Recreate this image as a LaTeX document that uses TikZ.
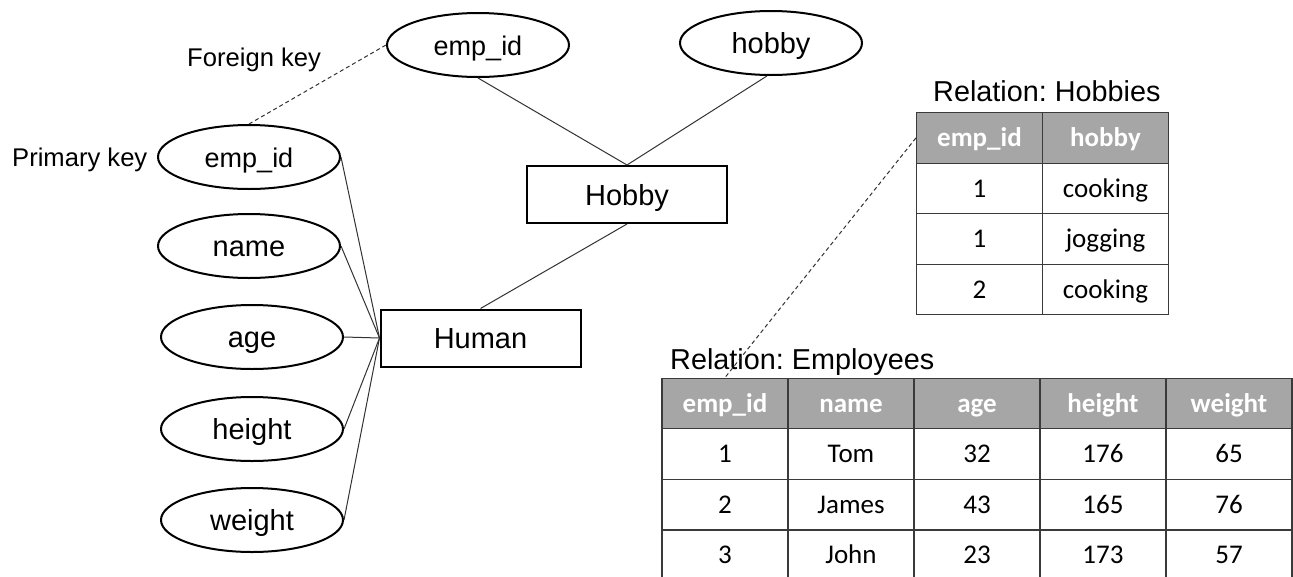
\documentclass[tikz,border=0pt]{standalone}
\usepackage{fontspec}
\setmainfont{Liberation Sans}
\newfontfamily\tabfont{Carlito}
\usetikzlibrary{shapes.geometric}
\frenchspacing
\definecolor{hdrgray}{HTML}{A6A6A6}
\definecolor{tabline}{HTML}{3A3A3A}
\definecolor{conn}{HTML}{333333}
\tikzset{
  attr/.style={draw=black, line width=2pt, ellipse, minimum width=182pt, minimum height=64pt, inner sep=0pt, text height=22pt, text depth=1pt, font=\fontsize{29}{34}\selectfont},
  attrsm/.style={attr, text height=21pt, text depth=1pt, font=\fontsize{27}{32}\selectfont},
  entity/.style={draw=black, line width=2pt, rectangle, minimum width=200pt, minimum height=57pt, inner sep=0pt, text height=22pt, text depth=1pt, font=\fontsize{29}{34}\selectfont},
  lbl/.style={inner sep=0pt, anchor=base west, font=\fontsize{25.6}{30}\selectfont},
  title/.style={inner sep=0pt, anchor=base west, font=\fontsize{28.8}{34}\selectfont},
  conline/.style={draw=conn, line width=1pt},
  fkline/.style={draw=conn, line width=1pt, dash pattern=on 4pt off 3pt},
  cell/.style={draw=tabline, line width=1.3pt, rectangle, minimum width=126pt, minimum height=50.6pt, inner sep=0pt, text height=20pt, text depth=3pt, font=\tabfont\fontsize{27}{32}\selectfont},
  hcell/.style={cell, fill=hdrgray, text=white, font=\tabfont\bfseries\fontsize{27}{32}\selectfont}
}
\begin{document}
\begin{tikzpicture}[x=1pt, y=-1pt]
\useasboundingbox[fill=white] (0,0) rectangle (1293,576);

% ER attributes
\node[attrsm] (topemp) at (478,45) {emp\_id};
\node[attr] (tophobby) at (771,43) {hobby};
\node[attrsm] (pk) at (249,157) {emp\_id};
\node[attr] (name) at (249,246) {name};
\node[attr] (age) at (252,337) {age};
\node[attr] (height) at (252,429) {height};
\node[attr] (weight) at (252,520) {weight};

% entities
\node[entity] (hobbyE) at (627,194.5) {Hobby};
\node[entity] (human) at (480.5,338) {Human};

% labels
\node[lbl] (fk) at (187,66) {Foreign key};
\node[lbl] (pklbl) at (12,166) {Primary key};

% connectors
\draw[conline] (topemp.south) -- (hobbyE.north);
\draw[conline] (tophobby.263) -- (hobbyE.north);
\draw[conline] (hobbyE.south) -- (human.north);
\foreach \a in {pk,name,age,height,weight}
  \draw[conline] (\a.east) -- (human.west);
\draw[fkline] (pk.north) -- (topemp.west);

% Hobbies table
\node[title] (thob) at (933,101) {Relation: Hobbies};
\node[hcell] (hh1) at (979.5,138) {emp\_id};
\node[hcell] (hh2) at (1105.5,138) {hobby};
\node[cell] (h11) at (979.5,188.5) {1};
\node[cell] (h12) at (1105.5,188.5) {cooking};
\node[cell] (h21) at (979.5,239) {1};
\node[cell] (h22) at (1105.5,239) {jogging};
\node[cell] (h31) at (979.5,289.5) {2};
\node[cell] (h32) at (1105.5,289.5) {cooking};

% Employees table
\node[title] (temp) at (670,369) {Relation: Employees};
\foreach \t [count=\i] in {emp\_id,name,age,height,weight}
  \node[hcell] (eh\i) at (599+126*\i,403.5) {\t};
\foreach \t [count=\i] in {1,Tom,32,176,65}
  \node[cell] (ea\i) at (599+126*\i,454.1) {\t};
\foreach \t [count=\i] in {2,James,43,165,76}
  \node[cell] (eb\i) at (599+126*\i,504.7) {\t};
\foreach \t [count=\i] in {3,John,23,173,57}
  \node[cell] (ec\i) at (599+126*\i,555.3) {\t};

\draw[fkline] (hh1.west) -- (eh1.north);
\end{tikzpicture}
\end{document}
